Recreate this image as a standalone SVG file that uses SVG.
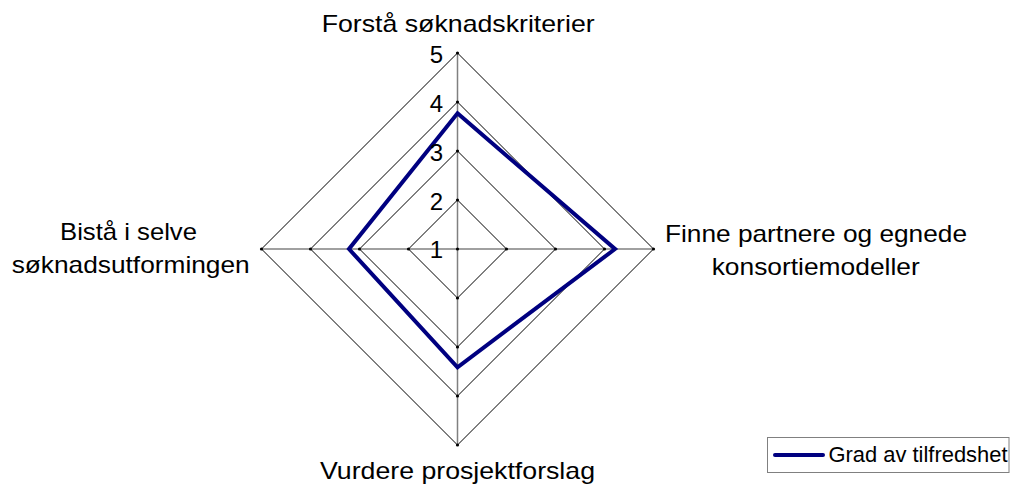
<svg xmlns="http://www.w3.org/2000/svg" width="1010" height="486" viewBox="0 0 1010 486">
<style>
text{font-family:"Liberation Sans",Arial,sans-serif;fill:#000;}
.lbl{font-size:24px;}
.tick{font-size:24px;text-anchor:end;}
.ring{fill:none;stroke:#000;stroke-width:1;}
.axis{stroke:#808080;stroke-width:1.5;}
.dot{fill:#000;}
.series{fill:none;stroke:#000080;stroke-width:4;stroke-linejoin:miter;}
</style>
<rect width="1010" height="486" fill="#fff"/>
<g id="grid">
<polygon class="ring" points="457.5,200 506.5,249 457.5,298 408.5,249"/>
<polygon class="ring" points="457.5,151 555.5,249 457.5,347 359.5,249"/>
<polygon class="ring" points="457.5,102 604.5,249 457.5,396 310.5,249"/>
<polygon class="ring" points="457.5,53 653.5,249 457.5,445 261.5,249"/>
</g>
<g id="connectors">
<line class="axis" x1="457.5" y1="53" x2="457.5" y2="445"/>
<line class="axis" x1="261.5" y1="249" x2="653.5" y2="249"/>
</g>
<g id="dots">
<circle class="dot" cx="457.5" cy="249" r="1.6"/>
<circle class="dot" cx="457.5" cy="200" r="1.6"/><circle class="dot" cx="457.5" cy="151" r="1.6"/><circle class="dot" cx="457.5" cy="102" r="1.6"/><circle class="dot" cx="457.5" cy="53" r="1.6"/>
<circle class="dot" cx="457.5" cy="298" r="1.6"/><circle class="dot" cx="457.5" cy="347" r="1.6"/><circle class="dot" cx="457.5" cy="396" r="1.6"/><circle class="dot" cx="457.5" cy="445" r="1.6"/>
<circle class="dot" cx="506.5" cy="249" r="1.6"/><circle class="dot" cx="555.5" cy="249" r="1.6"/><circle class="dot" cx="604.5" cy="249" r="1.6"/><circle class="dot" cx="653.5" cy="249" r="1.6"/>
<circle class="dot" cx="408.5" cy="249" r="1.6"/><circle class="dot" cx="359.5" cy="249" r="1.6"/><circle class="dot" cx="310.5" cy="249" r="1.6"/><circle class="dot" cx="261.5" cy="249" r="1.6"/>
</g>
<g id="series">
<polygon class="series" points="457.5,113.3 615,249 457.5,367.3 349,249"/>
</g>
<g id="ticks">
<text class="tick" x="443" y="62.5">5</text>
<text class="tick" x="443" y="111.5">4</text>
<text class="tick" x="443" y="160.5">3</text>
<text class="tick" x="443" y="210">2</text>
<text class="tick" x="443" y="258">1</text>
</g>
<g id="node-top">
<text class="lbl" x="321.7" y="32" textLength="273" lengthAdjust="spacingAndGlyphs">Forstå søknadskriterier</text>
</g>
<g id="node-right">
<text class="lbl" x="665" y="241.5" textLength="302" lengthAdjust="spacingAndGlyphs">Finne partnere og egnede</text>
<text class="lbl" x="711.7" y="275" textLength="208" lengthAdjust="spacingAndGlyphs">konsortiemodeller</text>
</g>
<g id="node-bottom">
<text class="lbl" x="320" y="479" textLength="275" lengthAdjust="spacingAndGlyphs">Vurdere prosjektforslag</text>
</g>
<g id="node-left">
<text class="lbl" x="60" y="239.5" textLength="137" lengthAdjust="spacingAndGlyphs">Bistå i selve</text>
<text class="lbl" x="11.7" y="273" textLength="238" lengthAdjust="spacingAndGlyphs">søknadsutformingen</text>
</g>
<g id="legend">
<rect x="767.5" y="437.5" width="241.5" height="35" fill="#fff" stroke="#808080" stroke-width="1"/>
<line x1="775" y1="455" x2="823" y2="455" stroke="#000080" stroke-width="4" stroke-linecap="round"/>
<text x="828.5" y="462" style="font-size:22px" textLength="179" lengthAdjust="spacingAndGlyphs">Grad av tilfredshet</text>
</g>
</svg>
